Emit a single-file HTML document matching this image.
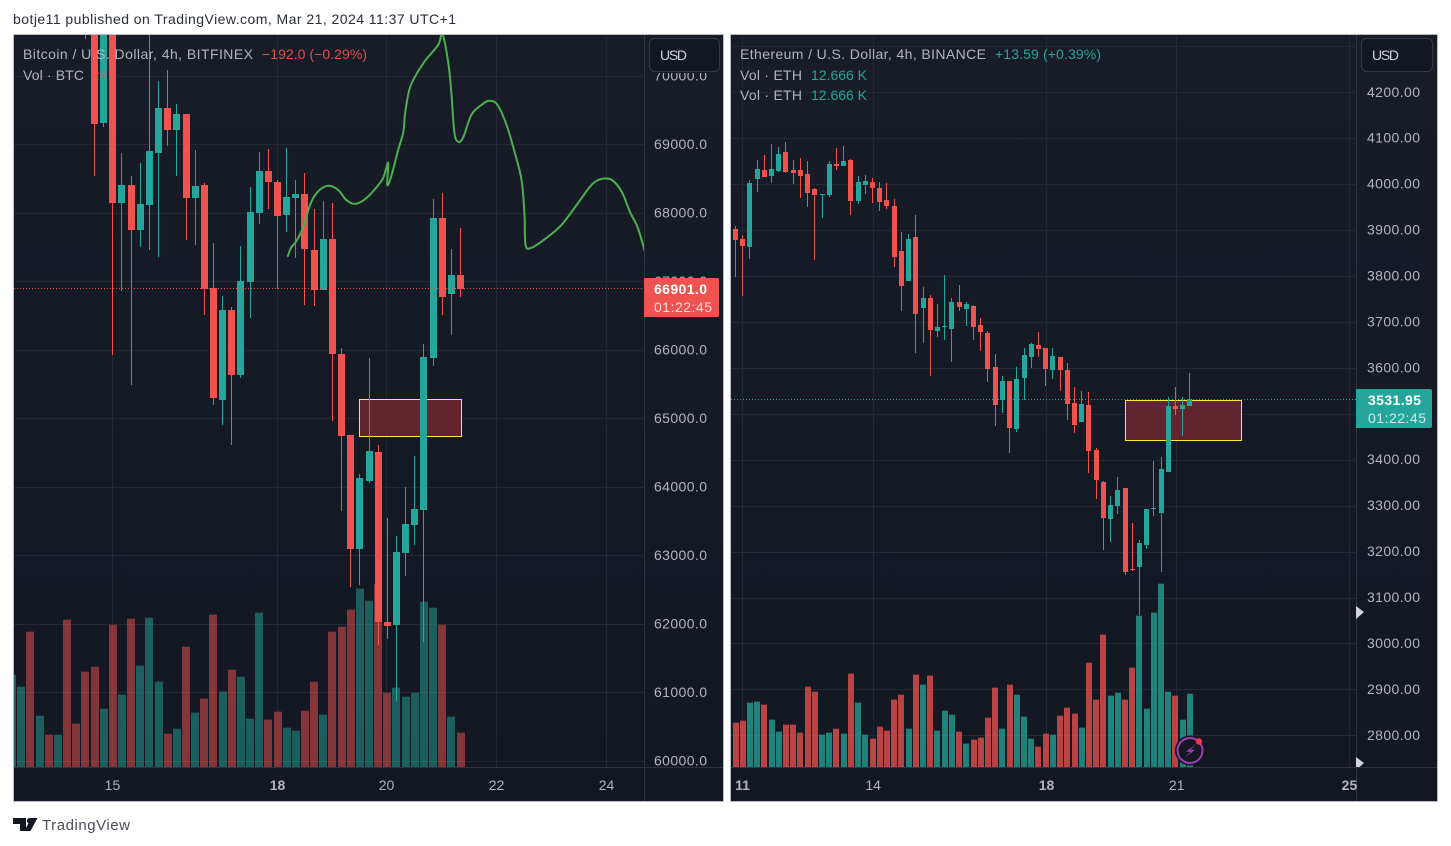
<!DOCTYPE html>
<html lang="en">
<head>
<meta charset="utf-8">
<title>BTC and ETH 4h charts</title>
<style>
html,body{margin:0;padding:0;background:#fff;width:1451px;height:846px;overflow:hidden}
svg{display:block;font-family:"Liberation Sans",Arial,sans-serif}
</style>
</head>
<body>
<svg id="root" xmlns="http://www.w3.org/2000/svg" width="1451" height="846" viewBox="0 0 1451 846">
  <defs>
    <linearGradient id="paneBg" x1="0" y1="0" x2="0" y2="1"><stop offset="0" stop-color="#181c27"/><stop offset="1" stop-color="#131722"/></linearGradient>
    <clipPath id="clipBtc"><rect x="14" y="35" width="630" height="732"/></clipPath>
    <clipPath id="clipEth"><rect x="731" y="35" width="625" height="732"/></clipPath>
    <clipPath id="clipEthAxis"><rect x="1356" y="35" width="81" height="732"/></clipPath>
    <clipPath id="clipBtcLabels"><rect x="645" y="73" width="78" height="694"/></clipPath>
  </defs>
  <text x="13" y="24" font-size="14" fill="#2a2e39" textLength="443" lengthAdjust="spacing">botje11 published on TradingView.com, Mar 21, 2024 11:37 UTC+1</text>

  <rect x="13.5" y="34.5" width="710" height="767" fill="url(#paneBg)" stroke="#b9bcc5"/>
  <rect x="730.5" y="34.5" width="707" height="767" fill="url(#paneBg)" stroke="#b9bcc5"/>

  <g id="btcLayer"></g>
  <g id="ethLayer"></g>

  <g font-size="14">
    <text x="23" y="59" fill="#b2b5be" textLength="230" lengthAdjust="spacing">Bitcoin / U.S. Dollar, 4h, BITFINEX</text>
    <text x="262" y="59" fill="#e0504e" textLength="105" lengthAdjust="spacing">−192.0 (−0.29%)</text>
    <text x="23" y="80" fill="#b2b5be" textLength="61" lengthAdjust="spacing">Vol · BTC</text>
    <text x="92" y="80" fill="#ef5350" opacity="0.55">24</text>
  </g>
  <g font-size="14">
    <text x="740" y="59" fill="#b2b5be" textLength="246" lengthAdjust="spacing">Ethereum / U.S. Dollar, 4h, BINANCE</text>
    <text x="995" y="59" fill="#26a69a" textLength="106" lengthAdjust="spacing">+13.59 (+0.39%)</text>
    <text x="740" y="80" fill="#b2b5be" textLength="62" lengthAdjust="spacing">Vol · ETH</text>
    <text x="811" y="80" fill="#26a69a" textLength="56" lengthAdjust="spacing">12.666 K</text>
    <text x="740" y="100" fill="#b2b5be" textLength="62" lengthAdjust="spacing">Vol · ETH</text>
    <text x="811" y="100" fill="#26a69a" textLength="56" lengthAdjust="spacing">12.666 K</text>
  </g>

  <g>
    <rect x="649.5" y="38.5" width="70" height="33" rx="5" fill="#131722" stroke="#363a45"/>
    <text x="660" y="60" font-size="14" fill="#d1d4dc" textLength="27" lengthAdjust="spacing">USD</text>
  </g>
  <g>
    <rect x="1361.5" y="38.5" width="71" height="33" rx="5" fill="#131722" stroke="#363a45"/>
    <text x="1372" y="60" font-size="14" fill="#d1d4dc" textLength="27" lengthAdjust="spacing">USD</text>
  </g>

  <g>
    <path d="M644 278H717a2 2 0 0 1 2 2V315a2 2 0 0 1 -2 2H644Z" fill="#ef5350"/>
    <text x="654" y="294" font-size="14" font-weight="700" fill="#fff" textLength="53" lengthAdjust="spacing">66901.0</text>
    <text x="654" y="312" font-size="14" fill="#fff" fill-opacity="0.78" textLength="58" lengthAdjust="spacing">01:22:45</text>
  </g>
  <g>
    <path d="M1356 389H1430a2 2 0 0 1 2 2V426a2 2 0 0 1 -2 2H1356Z" fill="#26a69a"/>
    <text x="1368" y="405" font-size="14" font-weight="700" fill="#fff" textLength="53" lengthAdjust="spacing">3531.95</text>
    <text x="1368" y="423" font-size="14" fill="#fff" fill-opacity="0.78" textLength="58" lengthAdjust="spacing">01:22:45</text>
  </g>

  <g clip-path="url(#clipEthAxis)">
    <polygon points="1356,606 1364,612 1356,619" fill="#d1d4dc"/>
    <polygon points="1356,757 1364,763 1356,770" fill="#d1d4dc"/>
  </g>

  <g>
    <circle cx="1190" cy="750.5" r="15" fill="#131722"/>
    <circle cx="1190" cy="750.5" r="12.5" fill="#131722" stroke="#a03db5" stroke-width="2"/>
    <polygon points="1197,743.5 1186,751.5 1190.5,752 1184,758 1195,750 1190.5,749.5" fill="#a03db5"/>
    <circle cx="1199" cy="741.5" r="3.2" fill="#f23645"/>
  </g>

  <g>
    <polygon points="13,818 26,818 26,831 20,831 20,824 13,824" fill="#131722"/>
    <circle cx="29.7" cy="820.7" r="2.8" fill="#131722"/>
    <polygon points="31,818 37.5,818 30.5,831 24.5,831" fill="#131722"/>
    <text x="42" y="830" font-size="15" fill="#4a4e59" textLength="88" lengthAdjust="spacing">TradingView</text>
  </g>
</svg>

<script>
// ---------- BTC chart data (prices in USD, null = bar above the visible range) ----------
const btcOpen = [null,null,null,null,null,null,null,null,71600,71000,69315,71000,68145,68410,67750,68115,68875,69535,69210,69445,68220,68410,66905,65265,66580,65630,66990,68000,68615,68450,67970,68220,68275,67460,66875,67620,65940,64755,63090,64085,64505,62025,61980,63030,63440,63660,65880,67925,66815,67095];
const btcHigh = [null,null,null,null,null,null,null,null,71800,71400,71100,71200,68875,68540,68730,70700,69925,70090,69590,69445,68920,68435,67560,66785,66625,67515,68380,68890,68935,68480,68950,68480,68585,68055,68175,68145,66025,64755,64185,65880,64610,63545,63280,63995,64450,66085,68205,68290,67475,67780];
const btcLow = [null,null,null,null,null,null,null,null,70540,68540,69255,65925,66860,65485,67500,67460,67355,68980,68540,67605,67530,66510,65195,64900,64610,65590,66465,67840,68055,66890,67720,67340,66655,66640,66875,64960,63645,62535,62565,64055,61685,61775,60870,62695,63150,61730,65765,66510,66215,66770];
const btcClose = [null,null,null,null,null,null,null,null,71000,69300,71000,68145,68410,67750,68130,68905,69535,69210,69445,68220,68395,66890,65295,66580,65630,67005,68015,68615,68450,67955,68235,68275,67475,66875,67620,65940,64740,63090,64125,64520,62025,61965,63045,63455,63675,65895,67925,66770,67095,66890];
const btcVolume = [277,241,406,154,97,97,442,130,286,301,175,427,217,445,304,448,256,100,115,361,163,205,457,226,292,271,145,463,142,166,118,109,169,256,157,406,421,472,535,499,550,223,238,211,223,496,478,427,151,103];
const btcVolumeUp = [1,1,0,1,0,1,0,0,0,0,1,0,1,0,1,1,1,0,1,0,1,0,0,1,0,1,1,1,0,0,1,1,0,0,1,0,0,0,1,1,0,0,1,1,1,1,1,0,1,0];
const btcPriceTicks = [70000,69000,68000,67000,66000,65000,64000,63000,62000,61000,60000];
const btcDayLabels = ['15','18','20','22','24'];
const btcDayBars = [10.91,28.95,40.86,52.88,64.9];
const btcLastPrice = [66901];
const btcZoneBars = [37.94,49.02];
const btcZonePrices = [65277,64745];
const btcDrawingBars = [30.14,30.47,31.01,31.78,32.44,32.99,33.75,34.63,35.62,36.49,37.37,38.47,39.78,40.55,41.10,40.99,41.42,42.19,42.74,42.96,43.40,43.95,45.04,46.58,47.01,47.67,48.0,48.33,48.77,49.32,50.19,51.29,52.16,53.04,54.03,54.90,55.67,56.0,56.11,56.77,58.41,60.05,61.7,63.34,64.44,65.53,66.63,67.51,68.38,69.26];
const btcDrawingPrices = [67370,67490,67575,67780,68070,68235,68350,68395,68335,68190,68130,68190,68365,68510,68730,68410,68525,68920,69170,69460,69795,69970,70205,70455,70615,70190,69750,69170,69035,69110,69430,69575,69635,69575,69285,68890,68480,67970,67530,67490,67635,67825,68115,68410,68495,68480,68305,68015,67780,67385];

// ---------- ETH chart data ----------
const ethOpen = [3902,3881,3863,4011,4031,4018,4029,4070,4031,4031,4022,3989,3976,3976,4044,4040,4053,3963,3998,4005,3992,3966,3952,3855,3789,3885,3730,3752,3680,3689,3685,3744,3728,3735,3693,3676,3602,3530,3572,3467,3578,3624,3650,3643,3595,3624,3595,3524,3482,3519,3421,3352,3271,3299,3339,3162,3166,3214,3293,3284,3373,3517,3511,3517];
const ethHigh = [3909,3889,4009,4053,4064,4087,4081,4092,4053,4057,4050,3992,3979,4050,4079,4083,4055,4018,4020,4013,4005,4003,3968,3896,3892,3933,3776,3759,3739,3802,3752,3780,3744,3737,3709,3680,3630,3582,3572,3602,3643,3654,3678,3643,3643,3624,3611,3558,3550,3548,3426,3354,3321,3362,3339,3262,3225,3293,3397,3406,3537,3558,3537,3589];
const ethLow = [3798,3757,3837,3983,4016,4003,4027,4024,4000,3970,3950,3835,3926,3972,4031,4040,3933,3957,3979,3959,3942,3946,3820,3724,3789,3632,3654,3582,3667,3661,3613,3724,3691,3661,3637,3569,3474,3502,3415,3460,3530,3600,3624,3561,3576,3550,3487,3458,3482,3371,3315,3204,3221,3282,3149,3158,3062,3206,3278,3156,3373,3497,3452,3517];
const ethClose = [3878,3865,4003,4033,4016,4033,4066,4027,4024,4018,3981,3976,3979,4044,4040,4050,3963,4005,4007,3992,3961,3952,3841,3778,3881,3717,3752,3683,3689,3691,3744,3733,3739,3689,3678,3598,3519,3572,3469,3576,3628,3652,3641,3598,3626,3595,3521,3476,3521,3419,3356,3273,3302,3334,3156,3160,3219,3293,3295,3380,3517,3511,3519,3532];
const ethVolume = [133,139,193,196,187,142,106,127,127,103,241,226,97,103,115,100,280,193,97,85,121,109,202,217,115,277,247,274,109,169,157,106,70,82,88,148,238,115,247,217,151,85,61,100,97,154,178,160,118,313,202,397,214,223,202,298,454,175,463,550,226,214,142,220];
const ethVolumeUp = [0,0,1,1,0,1,1,0,0,0,0,0,1,1,0,1,0,1,1,0,0,0,0,0,1,0,1,0,1,1,1,0,1,0,0,0,0,1,0,1,1,1,0,0,1,0,0,0,1,0,0,0,1,1,0,0,1,1,1,1,1,0,1,1];
const ethPriceTicks = [4300,4200,4100,4000,3900,3800,3700,3600,3500,3400,3300,3200,3100,3000,2900,2800];
const ethPriceLabels = ['4200.00','4100.00','4000.00','3900.00','3800.00','3700.00','3600.00','3400.00','3300.00','3200.00','3100.00','3000.00','2900.00','2800.00'];
const ethDayLabels = ['11','14','18','21','25'];
const ethDayBars = [0.9,19.02,43.05,61.1,85.05];
const ethLastPrice = [3531.95];
const ethZoneBars = [54.04,70.1];
const ethZonePrices = [3530,3442.4];
const majorDayLabels = ['11','18','25'];

const NS = 'http://www.w3.org/2000/svg';
const UP = '#26a69a', DOWN = '#ef5350', GRID = '#242833', LABEL = '#b2b5be', AXIS = '#30343f';

function put(parent, tag, attrs, text) {
  const el = document.createElementNS(NS, tag);
  for (const k in attrs) el.setAttribute(k, attrs[k]);
  if (text !== undefined) el.textContent = text;
  parent.appendChild(el);
  return el;
}
const crisp = v => Math.round(v) + 0.5;

function drawGrid(g, ticks, days, s) {
  ticks.forEach(p => {
    const el = put(g, 'line', {x1: s.left, x2: s.axisX, y1: crisp(s.y(p)), y2: crisp(s.y(p)), stroke: GRID});
    
    
  });
  days.forEach(b => {
    const el = put(g, 'line', {x1: crisp(s.x(b)), x2: crisp(s.x(b)), y1: 35, y2: 767, stroke: GRID});
    
    
  });
}
function drawVolumes(g, vol, up, s) {
  vol.forEach((v, i) => {
    const c = s.x(i), h = s.volH(v), top = 767 - h;
    const el = put(g, 'rect', {x: Math.round(c - s.barW / 2), y: top, width: s.barW, height: h, fill: up[i] ? UP : DOWN, 'fill-opacity': s.volAlpha});
    
    
  });
}
function drawZone(g, bars, prices, s) {
  const x1 = crisp(s.x(bars[0])), x2 = crisp(s.x(bars[1])), y1 = crisp(s.y(prices[0])), y2 = crisp(s.y(prices[1]));
  const el = put(g, 'rect', {x: x1, y: y1, width: x2 - x1, height: y2 - y1, fill: '#62252f', stroke: '#ffeb3b', 'stroke-width': 1});
  
  
}
function drawCandles(g, o, h, l, c, s) {
  o.forEach((open, i) => {
    if (open === null) return;
    const up = c[i] >= open, col = up ? UP : DOWN, cx = s.x(i);
    const bx = Math.round(cx - s.bodyW / 2);
    const wx = bx + (s.bodyW - 1) / 2;
    const wickTop = Math.round(s.y(h[i])), wickBot = Math.round(s.y(l[i]));
    const wick = put(g, 'rect', {x: wx, y: wickTop, width: 1, height: Math.max(1, wickBot - wickTop), fill: col});
    
    
    const top = Math.round(s.y(Math.max(open, c[i]))), bot = Math.round(s.y(Math.min(open, c[i])));
    const body = put(g, 'rect', {x: bx, y: top, width: s.bodyW, height: Math.max(1, bot - top), fill: col});
    
    
  });
}
function drawPriceLine(g, price, col, s) {
  const el = put(g, 'line', {x1: s.left, x2: s.axisX, y1: crisp(s.y(price)), y2: crisp(s.y(price)), stroke: col, 'stroke-dasharray': '1 2'});
  
  
}
function drawAxes(g, s, right) {
  const v = put(g, 'line', {x1: s.axisX + 0.5, x2: s.axisX + 0.5, y1: 35, y2: 801, stroke: AXIS});
  
  
  const h = put(g, 'line', {x1: s.left, x2: right, y1: 767.5, y2: 767.5, stroke: AXIS});
  
  
}
function drawDayLabels(g, labels, bars, s) {
  labels.forEach((t, i) => {
    const major = majorDayLabels.includes(t);
    const el = put(g, 'text', {x: s.x(bars[i]) + 0.5, y: 790, 'font-size': 14, 'text-anchor': 'middle', fill: LABEL, 'font-weight': major ? 700 : 400}, t);
    
    
  });
}
// Catmull-Rom smoothing through the sampled drawing points.
function smoothPath(xs, ys) {
  let d = 'M' + xs[0].toFixed(1) + ' ' + ys[0].toFixed(1);
  for (let i = 0; i < xs.length - 1; i++) {
    const a = Math.max(i - 1, 0), b = i + 1, n = Math.min(i + 2, xs.length - 1);
    const c1x = xs[i] + (xs[b] - xs[a]) / 6, c1y = ys[i] + (ys[b] - ys[a]) / 6;
    const c2x = xs[b] - (xs[n] - xs[i]) / 6, c2y = ys[b] - (ys[n] - ys[i]) / 6;
    d += 'C' + c1x.toFixed(1) + ' ' + c1y.toFixed(1) + ' ' + c2x.toFixed(1) + ' ' + c2y.toFixed(1) + ' ' + xs[b].toFixed(1) + ' ' + ys[b].toFixed(1);
  }
  return d;
}

// ---------- BTC ----------
const btcScale = {
  left: 14, axisX: 644, barW: 8, bodyW: 7, volAlpha: 0.5,
  x: i => 12.15 + 9.15 * i,
  y: p => 760.8 - (p - 60000) * 0.0685,
  volH: v => v / 3
};
(function () {
  const root = document.getElementById('btcLayer');
  const plot = put(root, 'g', {'clip-path': 'url(#clipBtc)'});
  
  
  drawGrid(plot, btcPriceTicks, btcDayBars, btcScale);
  drawVolumes(plot, btcVolume, btcVolumeUp, btcScale);
  drawZone(plot, btcZoneBars, btcZonePrices, btcScale);
  drawCandles(plot, btcOpen, btcHigh, btcLow, btcClose, btcScale);
  drawPriceLine(plot, btcLastPrice[0], DOWN, btcScale);
  const d = smoothPath(btcDrawingBars.map(btcScale.x), btcDrawingPrices.map(btcScale.y));
  const line = put(plot, 'path', {d: d, fill: 'none', stroke: '#4caf50', 'stroke-width': 2, 'stroke-linejoin': 'round', 'stroke-linecap': 'round'});
  
  
  drawAxes(root, btcScale, 723);
  const labels = put(root, 'g', {'clip-path': 'url(#clipBtcLabels)'});
  
  
  btcPriceTicks.forEach(p => {
    const el = put(labels, 'text', {x: 654, y: btcScale.y(p) + 4.5, 'font-size': 14, fill: LABEL, textLength: 53, lengthAdjust: 'spacing'}, p.toFixed(1));
    
    
  });
  drawDayLabels(root, btcDayLabels, btcDayBars, btcScale);
})();

// ---------- ETH ----------
const ethScale = {
  left: 731, axisX: 1356, barW: 6, bodyW: 5, volAlpha: 0.75,
  x: i => 735.5 + 7.213 * i,
  y: p => 92.3 + (4200 - p) * 0.4593,
  volH: v => v / 3
};
(function () {
  const root = document.getElementById('ethLayer');
  const plot = put(root, 'g', {'clip-path': 'url(#clipEth)'});
  
  
  drawGrid(plot, ethPriceTicks, ethDayBars, ethScale);
  drawVolumes(plot, ethVolume, ethVolumeUp, ethScale);
  drawZone(plot, ethZoneBars, ethZonePrices, ethScale);
  drawCandles(plot, ethOpen, ethHigh, ethLow, ethClose, ethScale);
  drawPriceLine(plot, ethLastPrice[0], UP, ethScale);
  drawAxes(root, ethScale, 1437);
  ethPriceLabels.forEach(t => {
    const el = put(root, 'text', {x: 1367, y: ethScale.y(parseFloat(t)) + 4.5, 'font-size': 14, fill: LABEL, textLength: 53, lengthAdjust: 'spacing'}, t);
    
    
  });
  drawDayLabels(root, ethDayLabels, ethDayBars, ethScale);
})();
</script>
</body>
</html>
